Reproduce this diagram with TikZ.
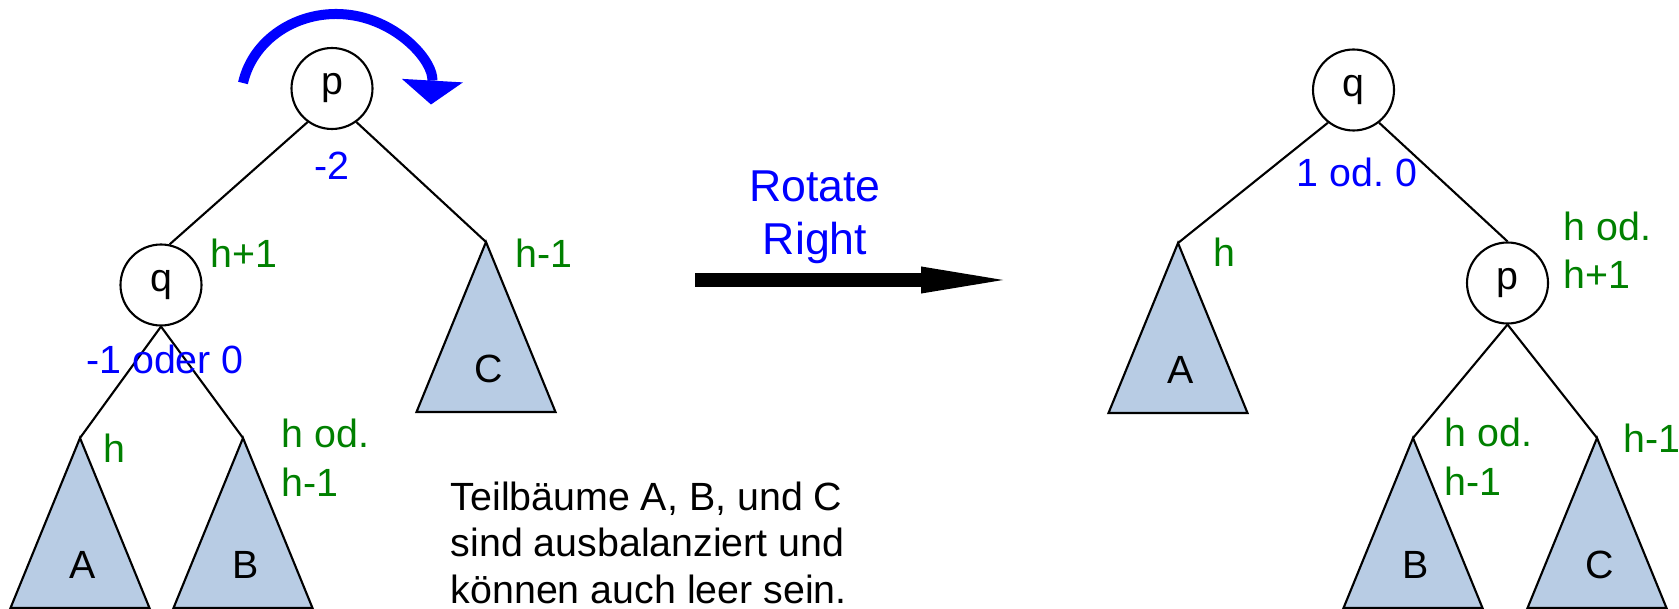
\documentclass[tikz,border=0pt]{standalone}
\usepackage{fontspec}
\setmainfont{Liberation Sans}
\usepackage{tikz}
\usetikzlibrary{arrows.meta,positioning}
\definecolor{treeFill}{HTML}{B8CCE4}
\definecolor{hGreen}{HTML}{008000}
\definecolor{balBlue}{HTML}{0000FF}
\frenchspacing
\tikzset{
  knot/.style={circle,draw,line width=0.6pt,minimum size=8.1mm,inner sep=0pt},
  subtree/.style={draw,fill=treeFill,line width=0.6pt},
  tlabel/.style={inner sep=0pt},
  hlabel/.style={text=hGreen,align=left,inner sep=0pt,anchor=base west,
    font=\fontsize{11.2}{13.9}\selectfont},
  blabel/.style={text=balBlue,inner sep=0pt,anchor=base},
  tedge/.style={line width=0.6pt},
  turn/.style={draw=balBlue,line width=2.85pt,
    -{Triangle[length=6.8pt,width=17.4pt,line width=0pt]}},
  rotarrow/.style={line width=4pt,-{Triangle[length=23.3pt,width=7.7pt,line width=0pt]}},
}

\begin{document}
\begin{tikzpicture}[x=0.1mm,y=-0.1mm,font=\fontsize{11.2}{13}\selectfont]
\useasboundingbox (0,0) rectangle (1679,609);
% subtrees A, B, C (left and right)
\foreach \n/\x/\y/\t in {lA/80/438/A,lB/243/438/B,lC/486/242/C,rA/1178/243/A,rB/1413/438/B,rC/1597/438/C}{
  \coordinate (\n) at (\x,\y);
  \draw[subtree] (\n) -- ++(69.5,170) -- ++(-139,0) -- cycle;
  \node[tlabel] (\n-txt) at ({\x+3},{\y+127}) {\t};
}
% left tree
\node[knot] (pL) at (332,88.5) {p};
\node[knot] (qL) at (161,285) {q};
\draw[tedge] (pL.234) -- (qL.78);
\draw[tedge] (pL.306) -- (lC);
\draw[tedge] (qL.south) -- (lA);
\draw[tedge] (qL.south) -- (lB);
\draw[turn] (243,83) arc[start angle=191.4,end angle=363,x radius=95,y radius=86];
\node[blabel] (balPL) at (332,180) {-2};
\node[blabel] (balQL) at (165,373) {-1 oder 0};
\node[hlabel] (hqL) at (210,268) {h+1};
\node[hlabel] (hlC) at (515,268) {h-1};
\node[hlabel] (hlA) at (103,462) {h};
\node[hlabel] (hlB) at (281,496) {h od.\\h-1};
% rotation
\coordinate (rotFrom) at (695,280);
\coordinate (rotTo) at (1003,280);
\draw[rotarrow] (rotFrom) -- (rotTo);
\node[blabel,align=center,font=\fontsize{12.7}{15.1}\selectfont] (rotText) at (815,255) {Rotate\\Right};
\node[align=left,anchor=base west,inner sep=0pt,font=\fontsize{11.2}{13.1}\selectfont] (note) at (450,603)
  {Teilbäume A, B, und C\\sind ausbalanziert und\\können auch leer sein.};
% right tree
\node[knot] (qR) at (1353.5,90) {q};
\node[knot] (pR) at (1507.5,283) {p};
\draw[tedge] (qR.232) -- (rA);
\draw[tedge] (qR.308) -- (pR.north);
\draw[tedge] (pR.south) -- (rB);
\draw[tedge] (pR.south) -- (rC);
\node[blabel] (balQR) at (1357,187) {1 od. 0};
\node[hlabel] (hrA) at (1213,267) {h};
\node[hlabel] (hpR) at (1563,289) {h od.\\h+1};
\node[hlabel] (hrB) at (1444,495) {h od.\\h-1};
\node[hlabel] (hrC) at (1623,453) {h-1};
\end{tikzpicture}
\end{document}
